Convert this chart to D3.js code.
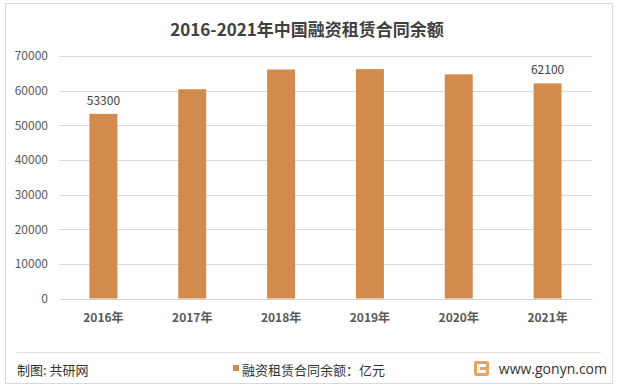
<!DOCTYPE html>
<html>
<head>
<meta charset="utf-8">
<style type="text/css">
body { margin: 0; background: #fff; }
svg text { font-family: "Noto Sans CJK SC", "Noto Sans", sans-serif; }
.grid line { stroke: #d9d9d9; stroke-width: 1; }
.bar { fill: #d38b4d; }
</style>
<script src="https://d3js.org/d3.v7.min.js"></script>
</head>
<body>
<script type="text/javascript">
var years = ["2016年", "2017年", "2018年", "2019年", "2020年", "2021年"];
var amounts = [53300, 60400, 66100, 66200, 64700, 62100];
var labelled = [53300, null, null, null, null, 62100];
var yTicks = [0, 10000, 20000, 30000, 40000, 50000, 60000, 70000];

var width = 618, height = 390;
var svg = d3.select("body").append("svg").attr("width", width).attr("height", height);

svg.append("rect").attr("x", 5.5).attr("y", 3.5).attr("width", 607).attr("height", 380)
	.attr("fill", "#fff").attr("stroke", "#d9d9d9");

svg.append("text").attr("x", 307).attr("y", 36).attr("text-anchor", "middle")
	.attr("font-size", 17).attr("font-weight", "bold").attr("fill", "#404040")
	.text("2016-2021年中国融资租赁合同余额");

var x = d3.scaleBand().domain(years).range([59, 592]).paddingInner(0.685).paddingOuter(0.3425);
var y = d3.scaleLinear().domain([0, 70000]).range([298.5, 56]);

var grid = svg.append("g").attr("class", "grid");
grid.selectAll("line").data(yTicks).enter().append("line")
	.attr("x1", 59).attr("x2", 592)
	.attr("y1", function(d) { return Math.round(y(d)) + 0.5; })
	.attr("y2", function(d) { return Math.round(y(d)) + 0.5; });

var yAxis = svg.append("g").attr("transform", "translate(48,0)")
	.call(d3.axisLeft(y).tickValues(yTicks).tickSize(0).tickPadding(0).tickFormat(d3.format("d")));
yAxis.select(".domain").remove();
yAxis.selectAll("text").attr("font-size", 12).attr("fill", "#595959")
	.style("font-family", "'Noto Sans CJK SC', sans-serif");

svg.selectAll(".bar").data(amounts).enter().append("rect")
	.attr("class", "bar")
	.attr("x", function(d, i) { return x(years[i]); })
	.attr("width", x.bandwidth())
	.attr("y", function(d) { return y(d); })
	.attr("height", function(d) { return y(0) - y(d); });

var xAxis = svg.append("g").attr("transform", "translate(0,299)")
	.call(d3.axisBottom(x).tickSize(0).tickPadding(14));
xAxis.select(".domain").attr("stroke", "#d0d0d0");
xAxis.selectAll("text").attr("font-size", 12).attr("font-weight", "bold").attr("fill", "#595959")
	.style("font-family", "'Noto Sans CJK SC', sans-serif");

svg.selectAll(".dlabel").data(labelled).enter().filter(function(d) { return d != null; })
	.append("text").attr("class", "dlabel")
	.attr("x", function(d, i) { return x(years[labelled.indexOf(d)]) + x.bandwidth() / 2; })
	.attr("y", function(d) { return y(d) - 9; })
	.attr("text-anchor", "middle").attr("font-size", 12).attr("fill", "#404040")
	.text(function(d) { return d; });

// footer
svg.append("line").attr("x1", 17).attr("x2", 601).attr("y1", 352.5).attr("y2", 352.5)
	.attr("stroke", "#e0e0e0");
svg.append("text").attr("x", 17).attr("y", 375).attr("font-size", 13).attr("fill", "#333")
	.text("制图: 共研网");
svg.append("rect").attr("x", 233).attr("y", 365).attr("width", 6).attr("height", 6).attr("fill", "#d38b4d");
svg.append("text").attr("x", 242).attr("y", 375).attr("font-size", 13).attr("fill", "#333")
	.text("融资租赁合同余额：亿元");

var logo = svg.append("g").attr("transform", "translate(474,361)");
logo.append("rect").attr("width", 15).attr("height", 15).attr("rx", 2).attr("fill", "#f3a15a");
logo.append("rect").attr("x", 3).attr("y", 3).attr("width", 9).attr("height", 3).attr("fill", "#fff");
logo.append("rect").attr("x", 3).attr("y", 3).attr("width", 3).attr("height", 9).attr("fill", "#fff");
logo.append("rect").attr("x", 6).attr("y", 9).attr("width", 6).attr("height", 3).attr("fill", "#fff");
svg.append("text").attr("x", 607).attr("y", 374).attr("text-anchor", "end")
	.attr("font-size", 14).attr("fill", "#333").style("font-family", "'Open Sans', sans-serif")
	.text("www.gonyn.com");
</script>
</body>
</html>
